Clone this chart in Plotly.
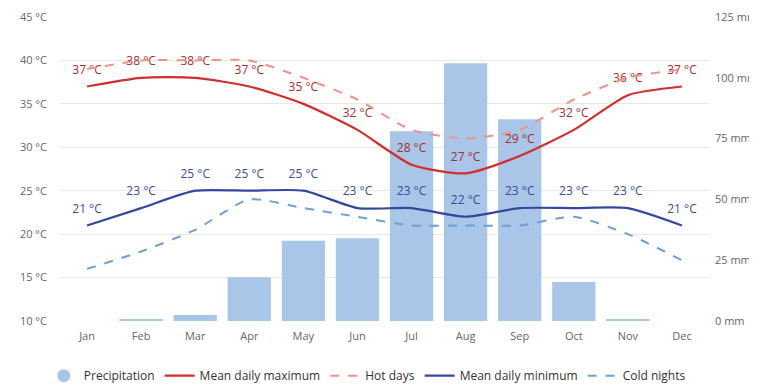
import plotly.graph_objects as go

months = ["Jan", "Feb", "Mar", "Apr", "May", "Jun", "Jul", "Aug", "Sep", "Oct", "Nov", "Dec"]
precipitation = [0, 0.5, 2.5, 18, 33, 34, 78, 106, 83, 16, 0.5, 0]
mean_max = [37, 38, 38, 37, 35, 32, 28, 27, 29, 32, 36, 37]
hot_days = [39, 40, 40, 40, 38, 35.5, 32, 31, 32, 35.5, 38, 39]
mean_min = [21, 23, 25, 25, 25, 23, 23, 22, 23, 23, 23, 21]
cold_nights = [16, 18, 20.5, 24, 23, 22, 21, 21, 21, 22, 20, 17]
temp_ticks = [10, 15, 20, 25, 30, 35, 40, 45]
precip_ticks = [0, 25, 50, 75, 100, 125]

BAR = "#a9c5e8"
RED = "#d42d2d"
HOT = "#ef9486"
BLUE = "#34499e"
COLD = "#6f9fd3"

fig = go.Figure()
fig.add_trace(go.Bar(x=months, y=precipitation, yaxis="y", marker_color=BAR,
                     name="Precipitation", showlegend=False, hoverinfo="skip"))
# legend marker for precipitation (circle)
fig.add_trace(go.Scatter(x=[None], y=[None], mode="markers", yaxis="y2",
                         marker=dict(symbol="circle", size=13, color=BAR), name="Precipitation"))
fig.add_trace(go.Scatter(x=months, y=mean_max, yaxis="y2", mode="lines+markers+text", name="Mean daily maximum",
                         line=dict(color=RED, width=2.2, shape="spline", smoothing=0.6),
                         marker=dict(size=14, color="rgba(0,0,0,0)"),
                         text=[f"{v} °C" for v in mean_max], textposition="top center",
                         textfont=dict(color="#a32f2e", size=12)))
fig.add_trace(go.Scatter(x=months, y=hot_days, yaxis="y2", mode="lines", name="Hot days",
                         line=dict(color=HOT, width=2, dash="dash", shape="spline", smoothing=0.6)))
fig.add_trace(go.Scatter(x=months, y=mean_min, yaxis="y2", mode="lines+markers+text", name="Mean daily minimum",
                         line=dict(color=BLUE, width=2.2, shape="spline", smoothing=0.6),
                         marker=dict(size=14, color="rgba(0,0,0,0)"),
                         text=[f"{v} °C" for v in mean_min], textposition="top center",
                         textfont=dict(color="#3a4b98", size=12)))
fig.add_trace(go.Scatter(x=months, y=cold_nights, yaxis="y2", mode="lines", name="Cold nights",
                         line=dict(color=COLD, width=2, dash="dash", shape="spline", smoothing=0.6)))

fig.update_layout(
    width=749, height=377,
    template="none",
    paper_bgcolor="white", plot_bgcolor="white",
    margin=dict(l=52, r=48, t=9, b=64, autoexpand=False),
    bargap=0.2,
    font=dict(family="Open Sans, Noto Sans, sans-serif", color="#666666", size=11),
    xaxis=dict(type="category", range=[-0.5, 11.5], showgrid=False, ticks="", showline=False,
               automargin=False, ticklabelstandoff=7, tickfont=dict(size=11, color="#666666")),
    yaxis=dict(side="right", range=[0, 125], tickmode="array", tickvals=precip_ticks,
               ticktext=[f"{v} mm" for v in precip_ticks],
               showgrid=False, zeroline=False, automargin=False, ticklabelstandoff=5,
               tickfont=dict(size=11, color="#666666")),
    yaxis2=dict(side="left", overlaying="y", range=[10, 45], tickmode="array", tickvals=temp_ticks,
                ticktext=[f"{v} °C" for v in temp_ticks],
                showgrid=True, gridcolor="#e8e8e8", gridwidth=1, zeroline=False, automargin=False,
                ticklabelstandoff=12, tickfont=dict(size=11, color="#666666")),
    legend=dict(orientation="h", x=-0.025, xanchor="left", y=-0.18, yanchor="middle",
                font=dict(size=12, color="#333333"), itemwidth=30, tracegroupgap=0),
    showlegend=True,
)

fig.write_html("out.html")
